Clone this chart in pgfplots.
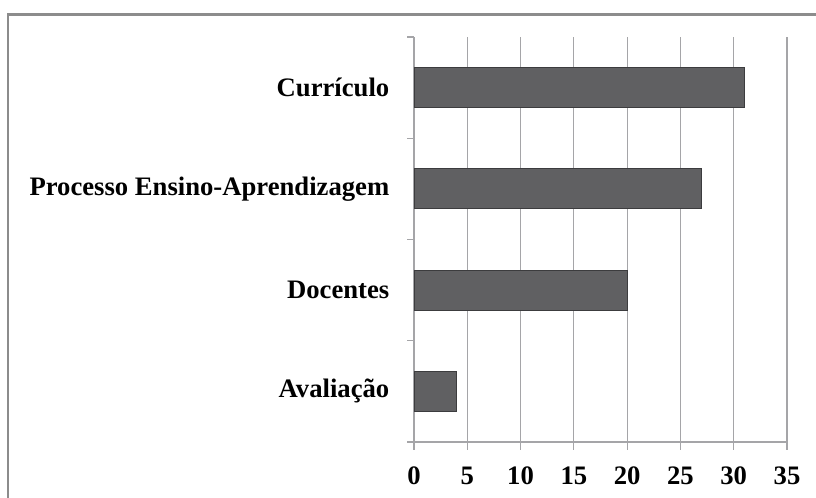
\documentclass[border=0pt]{standalone}
\usepackage{pgfplots}
\pgfplotsset{compat=1.18}
\usepackage{fontspec}
\setmainfont{Liberation Serif}
\definecolor{barfill}{RGB}{96,96,98}
\definecolor{barline}{RGB}{60,60,62}
\definecolor{gridc}{RGB}{165,165,168}
\definecolor{framec}{RGB}{140,140,140}
\begin{document}
\begin{tikzpicture}
\useasboundingbox (0,0) rectangle (612pt,373.5pt);
\draw[framec, line width=1.6pt] (6.3pt,-30pt) |- (700pt,362.6pt);
\begin{axis}[
  scale only axis,
  width=279.75pt, height=303.75pt,
  anchor=south west, at={(310.5pt,42pt)},
  xbar, bar width=30pt,
  xmin=0, xmax=35, ymin=-0.5, ymax=3.5,
  xtick={0,5,...,35},
  ytick={0,1,2,3},
  yticklabels={Avaliação, Docentes, Processo Ensino-Aprendizagem, Currículo},
  minor ytick={-0.5,0.5,1.5,2.5,3.5},
  axis lines=left,
  axis line style={gridc, line width=0.8pt, -},
  xmajorgrids, major grid style={gridc, line width=0.8pt},
  tick align=outside,
  major x tick style={gridc, line width=0.8pt},
  major tick length=6pt,
  minor tick length=5.25pt,
  minor y tick style={gridc, line width=0.8pt},
  major y tick style={draw=none},
  tick label style={font=\fontsize{20}{24}\selectfont\bfseries},
  yticklabel style={xshift=-9pt},
  xticklabel style={yshift=-9pt},
  /pgf/number format/assume math mode=true,
]
\addplot[fill=barfill, draw=barline, line width=0.8pt] coordinates {(4,0) (20,1) (27,2) (31,3)};
\end{axis}
\end{tikzpicture}
\end{document}
